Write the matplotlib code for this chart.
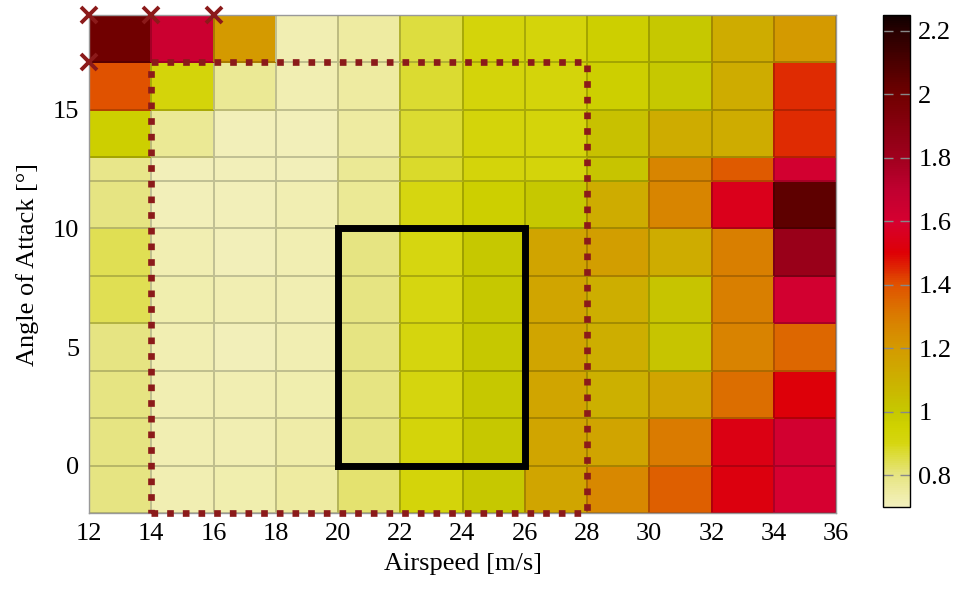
import numpy as np
import matplotlib
matplotlib.use("Agg")
import matplotlib.pyplot as plt
from matplotlib.colors import LinearSegmentedColormap, Normalize

plt.rcParams['font.family'] = ['Liberation Serif', 'DejaVu Serif']

# ---- data ----
x_edges = [12, 14, 16, 18, 20, 22, 24, 26, 28, 30, 32, 34, 36]
y_edges = [-2, 0, 2, 4, 6, 8, 10, 12, 13, 15, 17, 19]

# rows from bottom (y=-2..0) to top (y=17..19), columns 12..34 m/s
values = [
    [0.80, 0.72, 0.73, 0.75, 0.82, 0.92, 1.00, 1.15, 1.26, 1.37, 1.52, 1.60],
    [0.80, 0.72, 0.72, 0.74, 0.80, 0.92, 1.00, 1.15, 1.16, 1.30, 1.53, 1.62],
    [0.80, 0.72, 0.72, 0.73, 0.80, 0.91, 1.00, 1.15, 1.10, 1.16, 1.33, 1.51],
    [0.80, 0.72, 0.71, 0.72, 0.80, 0.91, 1.00, 1.15, 1.11, 1.02, 1.28, 1.35],
    [0.84, 0.73, 0.72, 0.72, 0.80, 0.90, 1.00, 1.15, 1.11, 1.02, 1.29, 1.62],
    [0.84, 0.72, 0.71, 0.72, 0.80, 0.90, 1.00, 1.16, 1.18, 1.12, 1.29, 1.83],
    [0.80, 0.71, 0.71, 0.72, 0.77, 0.90, 0.97, 1.00, 1.12, 1.27, 1.55, 2.05],
    [0.79, 0.71, 0.71, 0.71, 0.77, 0.88, 0.92, 0.92, 1.02, 1.27, 1.38, 1.62],
    [0.97, 0.77, 0.71, 0.71, 0.75, 0.87, 0.92, 0.92, 1.03, 1.12, 1.12, 1.45],
    [1.40, 0.92, 0.77, 0.72, 0.75, 0.87, 0.92, 0.92, 0.97, 1.00, 1.12, 1.45],
    [2.00, 1.65, 1.20, 0.72, 0.75, 0.86, 0.92, 0.92, 0.97, 1.00, 1.12, 1.20],
]

stall_x = [12, 14, 16, 12]
stall_y = [19, 19, 19, 17]

solid_box_x = [20, 26, 26, 20, 20]
solid_box_y = [0, 0, 10, 10, 0]
dotted_box_x = [14, 28, 28, 14, 14]
dotted_box_y = [-2, -2, 17, 17, -2]

cbar_ticks = [0.8, 1.0, 1.2, 1.4, 1.6, 1.8, 2.0, 2.2]
cbar_labels = ["0.8", "1", "1.2", "1.4", "1.6", "1.8", "2", "2.2"]
vmin, vmax = 0.7, 2.25

# ---- colormap ----
nodes = [
    (0.70, "#F2F0BC"), (0.75, "#EEEBA0"), (0.80, "#E6E480"), (0.85, "#DEDE48"),
    (0.90, "#D6D610"), (0.95, "#D0D200"), (1.00, "#C6C800"), (1.10, "#CCB000"),
    (1.20, "#D49A00"), (1.30, "#DA7C00"), (1.40, "#E05200"), (1.50, "#DE0005"),
    (1.60, "#D60030"), (1.70, "#C00030"), (1.80, "#A0001E"), (2.00, "#700000"),
    (2.20, "#280000"), (2.25, "#100000"),
]
cmap = LinearSegmentedColormap.from_list(
    "custom", [((v - vmin) / (vmax - vmin), c) for v, c in nodes])
norm = Normalize(vmin=vmin, vmax=vmax)

FS = 19

fig = plt.figure(figsize=(9.67, 5.89), dpi=100)
ax = fig.add_axes([89/967, 1-513/589, (836-89)/967, (513-15)/589])

C = np.array(values)
faces = cmap(norm(C.ravel()))
edges = faces.copy()
edges[:, :3] *= 0.8
mesh = ax.pcolormesh(x_edges, y_edges, C, cmap=cmap, norm=norm,
                     edgecolors=edges, linewidth=1.1)

ax.plot(dotted_box_x, dotted_box_y, color="#8B1A1A", lw=4.8,
        linestyle=(0, (1.0, 1.35)), dash_capstyle="butt", zorder=4,
        clip_on=False)
ax.plot(solid_box_x, solid_box_y, color="black", lw=5, zorder=5,
        solid_joinstyle="miter")
ax.plot(stall_x, stall_y, linestyle="none", marker="x", color="#8B1A1A",
        markersize=11, mew=2.8, zorder=6, clip_on=False)

ax.set_xlim(12, 36)
ax.set_ylim(-2, 19)
ax.set_xticks(range(12, 37, 2))
ax.set_yticks([0, 5, 10, 15])
ax.tick_params(length=0, labelsize=FS, pad=7)
for s in ax.spines.values():
    s.set_color("#999999")
    s.set_linewidth(1)
ax.set_xlabel("Airspeed [m/s]", fontsize=FS, labelpad=6)
ax.set_ylabel("Angle of Attack [°]", fontsize=FS, labelpad=10)

cax = fig.add_axes([883/967, 1-507/589, 27/967, (507-15)/589])
cb = fig.colorbar(mesh, cax=cax)
cb.set_ticks(cbar_ticks)
cb.set_ticklabels(cbar_labels)
cax.tick_params(direction="in", left=True, right=True, color="#888888",
                length=7, width=1, labelsize=FS, pad=6)
cb.outline.set_edgecolor("black")
cb.outline.set_linewidth(1)

fig.savefig("out.png", dpi=100)
